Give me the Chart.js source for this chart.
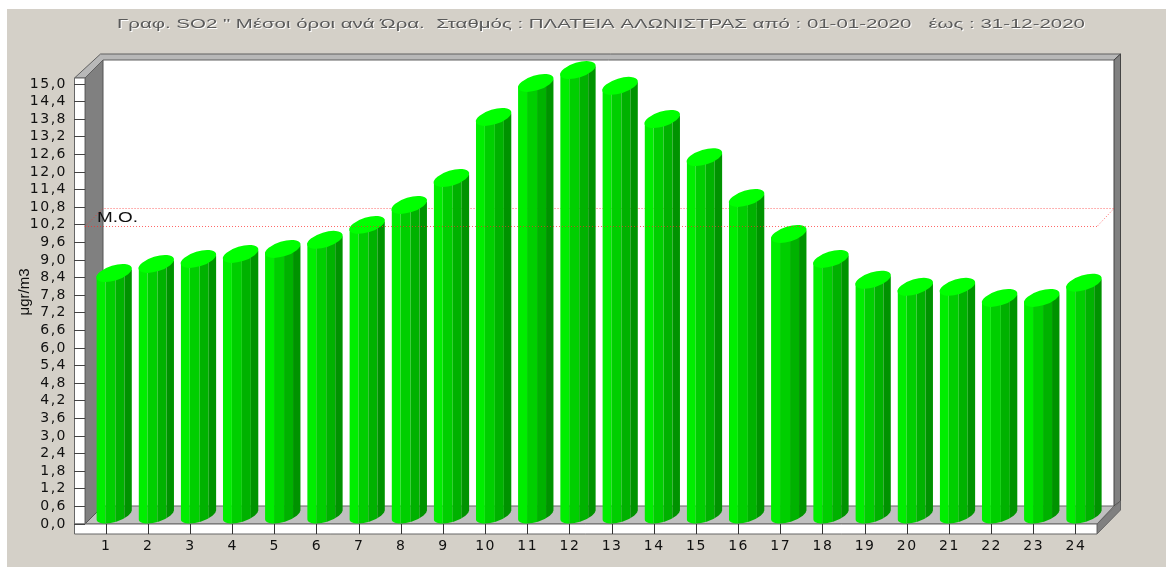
<!DOCTYPE html>
<html>
<head>
<meta charset="utf-8">
<title>SO2</title>
<script src="https://cdn.jsdelivr.net/npm/chart.js@4/dist/chart.umd.js"></script>
<style>
  body { margin: 0; background: #fff; }
  canvas { display: block; filter: blur(0.4px); }
</style>
</head>
<body>
<canvas id="chart" width="1166" height="567"></canvas>
<script>
const hours = ['1','2','3','4','5','6','7','8','9','10','11','12','13','14','15','16','17','18','19','20','21','22','23','24'];
const so2Values = [8.25,8.56,8.73,8.9,9.07,9.38,9.89,10.57,11.49,13.57,14.73,15.17,14.63,13.5,12.2,10.81,9.58,8.73,8.02,7.78,7.78,7.4,7.4,7.92];
const yTickLabels = ['0,0','0,6','1,2','1,8','2,4','3,0','3,6','4,2','4,8','5,4','6,0','6,6','7,2','7,8','8,4','9,0','9,6','10,2','10,8','11,4','12,0','12,6','13,2','13,8','14,4','15,0'];
const meanValue = 10.16;
const titleText = 'Γραφ. SO2 " Μέσοι όροι ανά Ώρα.  Σταθμός : ΠΛΑΤΕΙΑ ΑΛΩΝΙΣΤΡΑΣ από : 01-01-2020   έως : 31-12-2020';

const DEPTH = 18;

function poly(ctx, pts, fill, stroke) {
    ctx.beginPath();
    pts.forEach((p, i) => i ? ctx.lineTo(p[0], p[1]) : ctx.moveTo(p[0], p[1]));
    ctx.closePath();
    ctx.fillStyle = fill;
    ctx.fill();
    if (stroke) {
        ctx.strokeStyle = stroke;
        ctx.lineWidth = 1;
        ctx.stroke();
    }
}

// bar drawn as a slanted cylinder standing in the middle of the floor
class CylinderBar extends Chart.BarElement {
    static id = 'cylinderBar';
    draw(ctx) {
        const {x, y, base, width} = this.getProps(['x', 'y', 'base', 'width']);
        const cx = x + 8, x0 = cx - width / 2;
        const yTop = y - 9, yBase = base - 9;
        const rot = -17 * Math.PI / 180, rx = width / 2 * 1.04, ry = 7.5, off = 3.5;
        ctx.save();
        ctx.beginPath();
        ctx.moveTo(x0, yTop + off);
        ctx.lineTo(x0 + width, yTop - off);
        ctx.lineTo(x0 + width, yBase - off);
        ctx.lineTo(x0, yBase + off);
        ctx.closePath();
        ctx.moveTo(cx + rx * Math.cos(rot), yBase + rx * Math.sin(rot));
        ctx.ellipse(cx, yBase, rx, ry, rot, 0, Math.PI * 2);
        ctx.clip();
        const strips = [[0, 9, '#00ee00'], [9, 10, '#00cf00'], [19, 9, '#00b200'], [28, 10, '#009300']];
        strips.forEach(s => {
            ctx.fillStyle = s[2];
            ctx.fillRect(x0 + s[0], yTop - 20, s[1], yBase - yTop + 40);
        });
        ctx.restore();
        ctx.beginPath();
        ctx.ellipse(cx, yTop, rx, ry, rot, 0, Math.PI * 2);
        ctx.fillStyle = '#00ff00';
        ctx.fill();
    }
}
Chart.register(CylinderBar);
Chart.defaults.datasets.bar.dataElementType = 'cylinderBar';

const frame3d = {
    id: 'frame3d',
    beforeDraw(chart) {
        const ctx = chart.ctx, a = chart.chartArea;
        const l = a.left, r = a.right, b = a.bottom, t = 78;
        const bl = l + DEPTH, br = 1114, bb = b - DEPTH, bt = 60;
        ctx.save();
        ctx.fillStyle = '#d4d0c8';
        ctx.fillRect(7, 9, 1159, 558);
        poly(ctx, [[bl, bt], [br, bt], [br, bb], [bl, bb]], '#ffffff');
        poly(ctx, [[l, b], [bl, bb], [br, bb], [r, b]], '#c0c0c0', '#666666');
        poly(ctx, [[l, t], [bl, bt], [bl, bb], [l, b]], '#808080', '#555555');
        poly(ctx, [[74.5, t], [100.5, 54], [1120.5, 54], [br, bt], [bl, bt], [l, t]], '#b8b8b8', '#606060');
        poly(ctx, [[br, bt], [1120.5, 54], [1120.5, 501], [br, bb]], '#808080', '#444444');
        poly(ctx, [[r, b], [1120.5, 501], [1120.5, 510], [r, 534]], '#808080', '#666666');
        poly(ctx, [[74.5, t], [l, t], [l, b], [74.5, b]], '#ffffff', '#666666');
        poly(ctx, [[74.5, b], [r, b], [r, 534], [74.5, 534]], '#ffffff', '#666666');
        ctx.fillStyle = '#111';
        ctx.font = '15px "Liberation Sans Narrow", "Liberation Sans"';
        ctx.letterSpacing = '0px';
        ctx.textAlign = 'center';
        ctx.textBaseline = 'middle';
        ctx.translate(25, 292);
        ctx.rotate(-Math.PI / 2);
        ctx.fillText('μgr/m3', 0, 0);
        ctx.restore();
        ctx.letterSpacing = '1.5px';
    },
    beforeDatasetsDraw(chart) {
        const ctx = chart.ctx, a = chart.chartArea;
        const my = Math.round(chart.scales.y.getPixelForValue(meanValue)) + 0.5;
        ctx.save();
        ctx.strokeStyle = 'rgba(255,40,40,0.7)';
        ctx.lineWidth = 1;
        ctx.setLineDash([1, 2]);
        ctx.beginPath();
        ctx.moveTo(a.left, my);
        ctx.lineTo(a.left + DEPTH, my - DEPTH);
        ctx.lineTo(1114, my - DEPTH);
        ctx.lineTo(a.right, my);
        ctx.stroke();
        ctx.setLineDash([]);
        ctx.translate(97, 218);
        ctx.scale(1.35, 1);
        ctx.fillStyle = '#111';
        ctx.font = '14px "Liberation Sans"';
        ctx.letterSpacing = '0px';
        ctx.textBaseline = 'middle';
        ctx.fillText('M.O.', 0, 0);
        ctx.restore();
    },
    afterDatasetsDraw(chart) {
        const ctx = chart.ctx, a = chart.chartArea;
        const my = Math.round(chart.scales.y.getPixelForValue(meanValue)) + 0.5;
        ctx.save();
        ctx.strokeStyle = 'rgba(255,40,40,0.7)';
        ctx.lineWidth = 1;
        ctx.setLineDash([1, 2]);
        ctx.beginPath();
        ctx.moveTo(a.left, my);
        ctx.lineTo(a.right, my);
        ctx.stroke();
        ctx.restore();
    }
};

const config = {
    type: 'bar',
    data: {
        labels: hours,
        datasets: [{
            label: 'SO2',
            data: so2Values,
            backgroundColor: '#00ee00',
            categoryPercentage: 1,
            barPercentage: 0.84,
            clip: false
        }]
    },
    options: {
        responsive: false,
        animation: false,
        layout: {padding: {left: 0, right: 69, top: 0, bottom: 0}},
        plugins: {
            legend: {display: false},
            tooltip: {enabled: false},
            title: {
                display: true,
                text: titleText,
                color: '#5a5a5a',
                font: {family: '"Liberation Sans"', size: 13, weight: 'normal', lineHeight: 1.2},
                padding: {top: 17, bottom: 51.4}
            }
        },
        scales: {
            x: {
                type: 'category',
                afterFit(scale) { scale.height = 43; },
                border: {display: false},
                grid: {drawOnChartArea: false, offset: false, tickLength: 10, tickColor: '#333333', tickWidth: 1},
                ticks: {color: '#111', padding: 4, maxRotation: 0, autoSkip: false, font: {family: '"DejaVu Sans"', size: 14}}
            },
            y: {
                type: 'linear',
                min: 0,
                max: 15,
                afterFit(scale) { scale.width = 85; },
                border: {display: false},
                grid: {drawOnChartArea: false, tickLength: 11, tickColor: '#444444', tickWidth: 1},
                ticks: {
                    stepSize: 0.6,
                    autoSkip: false,
                    color: '#111',
                    padding: 7,
                    font: {family: '"DejaVu Sans"', size: 14},
                    callback: (v, i) => yTickLabels[i]
                }
            }
        }
    },
    plugins: [frame3d]
};

const myChart = new Chart(document.getElementById('chart'), config);

// the original title is horizontally stretched and shifted to the right
const block = myChart.titleBlock;
const drawTitle = block.draw.bind(block);
block.draw = function () {
    const ctx = myChart.ctx;
    ctx.save();
    ctx.letterSpacing = '0px';
    ctx.shadowColor = '#ffffff';
    ctx.shadowOffsetX = 1;
    ctx.shadowOffsetY = 1;
    ctx.translate(601, 0);
    ctx.scale(1.572, 1);
    ctx.translate(-548.5, 0);
    drawTitle();
    ctx.restore();
};
myChart.draw();
</script>
</body>
</html>
